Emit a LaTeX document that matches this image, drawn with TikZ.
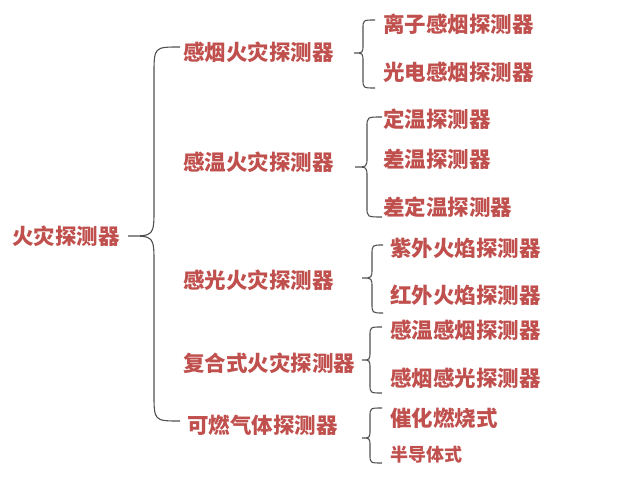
\documentclass[tikz,border=0pt]{standalone}
\usepackage{fontspec}
\newfontfamily\cjk{Noto Sans CJK SC}
\definecolor{txt}{HTML}{C0504D}
\definecolor{brcol}{HTML}{505050}
\newcommand\mybrace[7]{% xtip ytip xmid xend ytop ybot radius
  \draw[brc] (#4,#5) .. controls (#3,#5) .. (#3,{#5+#7}) -- (#3,{#2-#7})
    .. controls (#3,#2) .. (#1,#2) .. controls (#3,#2) .. (#3,{#2+#7})
    -- (#3,{#6-#7}) .. controls (#3,#6) .. (#4,#6);}
\begin{document}
\begin{tikzpicture}[x=1pt,y=-1pt,
  lbl/.style={anchor=west,inner sep=0pt,text=txt,font=\cjk\bfseries\fontsize{21.5}{24}\selectfont},
  sml/.style={lbl,font=\cjk\bfseries\fontsize{18}{20}\selectfont},
  brc/.style={draw=brcol,line width=1.1pt}]
\useasboundingbox (0,0) rectangle (640,478);
% root
\node[lbl] (root) at (12,236) {火灾探测器};
% level 1
\node[lbl] (a) at (183,52) {感烟火灾探测器};
\node[lbl] (b) at (183,162) {感温火灾探测器};
\node[lbl] (c) at (183,280) {感光火灾探测器};
\node[lbl] (d) at (183,363) {复合式火灾探测器};
\node[lbl] (e) at (187,425) {可燃气体探测器};
% level 2
\node[lbl] (a1) at (383,24) {离子感烟探测器};
\node[lbl] (a2) at (383,72) {光电感烟探测器};
\node[lbl] (b1) at (383,119) {定温探测器};
\node[lbl] (b2) at (383,159) {差温探测器};
\node[lbl] (b3) at (383,207) {差定温探测器};
\node[lbl] (c1) at (390,248) {紫外火焰探测器};
\node[lbl] (c2) at (390,295) {红外火焰探测器};
\node[lbl] (d1) at (390,330) {感温感烟探测器};
\node[lbl] (d2) at (390,378) {感烟感光探测器};
\node[lbl] (e1) at (390,418) {催化燃烧式};
\node[sml] (e2) at (390,455) {半导体式};
% braces
\mybrace{128}{236}{154}{180}{47}{421}{28}
\mybrace{354}{53}{363}{375}{20}{88}{9}
\mybrace{355}{167}{367}{382}{117}{217}{10}
\mybrace{362}{278}{372}{383}{245}{313}{10}
\mybrace{362}{360}{370}{382}{327}{393}{9}
\mybrace{362}{438}{370}{382}{408}{463}{9}
\end{tikzpicture}
\end{document}
